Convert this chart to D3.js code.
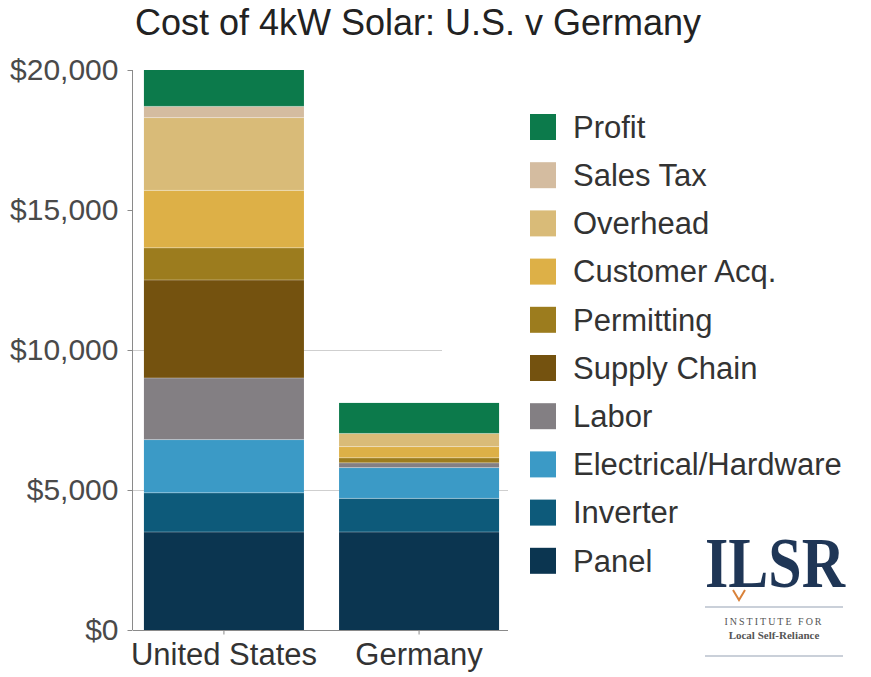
<!DOCTYPE html>
<html>
<head>
<meta charset="utf-8">
<script src="https://cdn.jsdelivr.net/npm/d3@7"></script>
<style>
  html, body { margin: 0; padding: 0; background: #ffffff; }
  svg { display: block; font-family: "Liberation Sans", Arial, sans-serif; }
</style>
</head>
<body>
<svg id="chart" width="871" height="677"></svg>
<script>
// Cost components, bottom of the stack first
const components = ["Panel", "Inverter", "Electrical/Hardware", "Labor", "Supply Chain",
                    "Permitting", "Customer Acq.", "Overhead", "Sales Tax", "Profit"];
const categories = ["United States", "Germany"];
const usCosts      = [3500, 1400, 1900, 2200, 3500, 1150, 2050, 2600, 400, 1300];
const germanyCosts = [3500, 1200, 1100,  170,    0,  180,  400,  470,   0, 1090];
const componentColors = ["#0b3550", "#0d5a7a", "#3b9ac6", "#837f83", "#74520f",
                         "#9c7c1e", "#ddb047", "#d9bb78", "#d4bca0", "#0c7a4b"];
const yTicks = [0, 5000, 10000, 15000, 20000];
const gridValues = [5000, 10000];

const svg = d3.select("#chart");

const rows = categories.map((c, i) => {
  const src = i === 0 ? usCosts : germanyCosts;
  const row = { category: c };
  components.forEach((k, j) => row[k] = src[j]);
  return row;
});

const x = d3.scaleBand().domain(categories).range([133, 510])
  .paddingInner(0.18).paddingOuter(0.056);
const y = d3.scaleLinear().domain([0, 20000]).range([630, 70]);
const color = d3.scaleOrdinal().domain(components).range(componentColors);

// Title
svg.append("text")
  .attr("x", 418).attr("y", 35)
  .attr("text-anchor", "middle")
  .attr("font-size", 36)
  .attr("fill", "#222")
  .text("Cost of 4kW Solar: U.S. v Germany");

// Gridlines
svg.append("g").selectAll("line").data(gridValues).join("line")
  .attr("x1", 133).attr("x2", 508)
  .attr("y1", d => y(d) + 0.5).attr("y2", d => y(d) + 0.5)
  .attr("stroke", "#cfcfcf").attr("stroke-width", 1);

// Legend background hides the gridlines behind the legend
svg.append("rect").attr("x", 442).attr("y", 95).attr("width", 420).attr("height", 370)
  .attr("fill", "#fff");

// Stacked bars
const series = d3.stack().keys(components)(rows);
const layers = svg.append("g").selectAll("g").data(series).join("g")
  .attr("fill", d => color(d.key));
layers.selectAll("rect").data(d => d.filter(s => s[1] > s[0])).join("rect")
  .attr("x", d => x(d.data.category))
  .attr("width", x.bandwidth())
  .attr("y", d => y(d[1]))
  .attr("height", d => y(d[0]) - y(d[1]));

// Faint seams between segments
layers.selectAll("line").data(d => d.filter(s => s[1] > s[0] && s[0] > 0)).join("line")
  .attr("x1", d => x(d.data.category)).attr("x2", d => x(d.data.category) + x.bandwidth())
  .attr("y1", d => y(d[0])).attr("y2", d => y(d[0]))
  .attr("stroke", "#ffffff").attr("stroke-opacity", 0.35).attr("stroke-width", 1);

// Y axis
const yAxis = svg.append("g").attr("transform", "translate(132.5,0)")
  .call(d3.axisLeft(y).tickValues(yTicks).tickSize(5).tickPadding(9)
    .tickFormat(d => "$" + d3.format(",")(d)));
yAxis.select(".domain").attr("stroke", "#8a8a8a").attr("d", `M0,${y(20000)}V${y(0)}`);
yAxis.selectAll(".tick line").attr("stroke", "#8a8a8a");
yAxis.selectAll(".tick text").attr("font-size", 30).attr("fill", "#4a4a4a")
  .attr("font-family", "Liberation Sans, Arial, sans-serif");

// X axis
const xAxis = svg.append("g").attr("transform", `translate(0,${y(0) + 0.5})`)
  .call(d3.axisBottom(x).tickSize(4).tickPadding(8));
xAxis.select(".domain").attr("stroke", "#8a8a8a").attr("d", "M133,0H508");
xAxis.selectAll(".tick line").attr("stroke", "#8a8a8a");
xAxis.selectAll(".tick text").attr("font-size", 31).attr("fill", "#333")
  .attr("font-family", "Liberation Sans, Arial, sans-serif");

// Legend, Profit at the top
const legendItems = components.slice().reverse();
const legend = svg.append("g").selectAll("g").data(legendItems).join("g")
  .attr("transform", (d, i) => `translate(530,${127 + i * 48.2})`);
legend.append("rect")
  .attr("x", 0).attr("y", -13).attr("width", 26).attr("height", 26)
  .attr("fill", d => color(d));
legend.append("text")
  .attr("x", 43).attr("y", 0).attr("dy", "0.35em")
  .attr("font-size", 31).attr("fill", "#333")
  .text(d => d);

// Institute logo
const logo = svg.append("g").attr("fill", "#1f3656");
logo.append("text")
  .attr("transform", "translate(705,587) scale(1,1.2)")
  .attr("font-family", "Liberation Serif, DejaVu Serif, serif")
  .attr("font-weight", "bold").attr("font-size", 60)
  .text("ILSR");
logo.append("path")
  .attr("d", "M733,590 L739,600 L745,590")
  .attr("fill", "none").attr("stroke", "#d9823a").attr("stroke-width", 2);
logo.append("line").attr("x1", 705).attr("x2", 843).attr("y1", 607).attr("y2", 607)
  .attr("stroke", "#b8c0cc").attr("stroke-width", 1.5);
logo.append("text")
  .attr("x", 774).attr("y", 625).attr("text-anchor", "middle")
  .attr("font-size", 10).attr("letter-spacing", 2).attr("fill", "#555")
  .attr("font-family", "Liberation Serif, serif")
  .text("INSTITUTE FOR");
logo.append("text")
  .attr("x", 774).attr("y", 639).attr("text-anchor", "middle")
  .attr("font-size", 11).attr("font-weight", "bold").attr("fill", "#555")
  .attr("font-family", "Liberation Serif, serif")
  .text("Local Self-Reliance");
logo.append("line").attr("x1", 705).attr("x2", 843).attr("y1", 656).attr("y2", 656)
  .attr("stroke", "#b8c0cc").attr("stroke-width", 1.5);
</script>
</body>
</html>
